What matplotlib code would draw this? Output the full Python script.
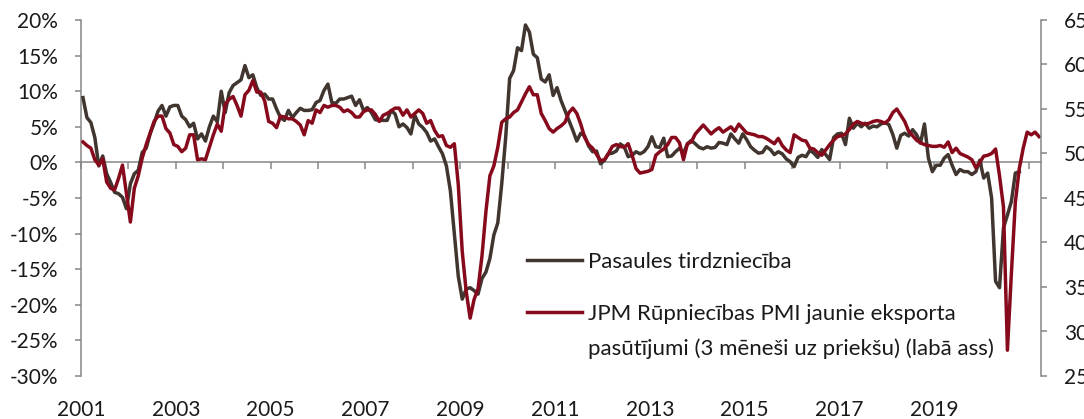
import numpy as np
import matplotlib
matplotlib.use("Agg")
import matplotlib.pyplot as plt
from matplotlib.ticker import FuncFormatter, FormatStrFormatter

plt.rcParams['font.family'] = ['Lato', 'DejaVu Sans']

## DATA ##

# World trade, y/y change [%], monthly from Jan 2001
trade = [
	9.1, 6.3, 5.6, 3.5, -0.5, 0.9, -1.6, -2.8, -4.2, -4.4, -4.9, -6.5,
	-3.0, -1.6, -1.1, 1.4, 2.0, 4.0, 5.5, 7.2, 8.0, 6.5, 7.8, 8.0,
	8.0, 6.5, 6.0, 5.0, 5.5, 3.3, 4.0, 3.0, 5.0, 6.5, 5.7, 10.0,
	7.0, 9.8, 10.8, 11.2, 11.6, 13.6, 11.9, 12.3, 10.5, 9.4, 9.6, 8.9,
	8.9, 7.5, 6.3, 5.9, 7.3, 6.3, 7.0, 7.6, 7.3, 7.3, 7.4, 8.4,
	8.7, 10.1, 11.0, 8.4, 8.3, 8.9, 8.9, 9.1, 9.3, 8.0, 8.8, 7.3,
	7.7, 7.0, 6.0, 5.9, 5.9, 5.9, 7.3, 6.8, 5.0, 5.4, 4.9, 4.0,
	6.6, 5.4, 4.9, 4.2, 3.0, 3.3, 2.2, 1.2, -0.5, -4.0, -10.0, -16.0,
	-19.2, -17.8, -17.6, -18.0, -18.5, -16.3, -15.4, -13.5, -10.2, -8.5, -3.0, 3.5,
	11.8, 12.9, 16.1, 15.7, 19.3, 18.3, 15.2, 14.7, 11.7, 11.3, 12.3, 9.4,
	10.5, 8.7, 7.3, 5.9, 4.5, 3.0, 4.1, 3.7, 2.3, 1.5, 1.6, -0.2,
	0.3, 1.2, 1.3, 1.6, 2.6, 2.2, 0.8, 1.0, 1.5, 1.2, 1.5, 2.2,
	3.6, 2.2, 2.1, 3.4, 0.8, 0.9, 1.5, 2.0, 1.3, 2.6, 3.1, 2.6,
	2.1, 1.9, 2.2, 2.0, 2.1, 2.8, 2.7, 2.5, 4.0, 3.3, 2.7, 4.0,
	3.2, 2.2, 1.7, 1.3, 1.4, 2.2, 1.8, 1.1, 1.5, 1.2, 0.5, 0.1,
	-0.6, 0.7, 1.0, 0.8, 1.7, 1.3, 0.7, 1.8, 1.1, 0.4, 3.5, 4.0,
	4.1, 2.5, 6.2, 4.8, 5.5, 5.0, 5.5, 4.8, 5.1, 5.0, 5.4, 5.6,
	5.3, 3.9, 2.0, 3.8, 4.1, 3.7, 4.6, 3.9, 2.7, 5.4, 0.6, -1.3,
	-0.4, -0.4, 0.6, 1.1, -0.4, -1.7, -1.0, -1.3, -1.3, -1.7, -1.3, 0.3,
	-2.2, -1.5, -5.0, -16.7, -17.6, -9.2, -7.4, -5.5, -1.5, -1.3]

# JPM manufacturing PMI new export orders, shifted 3 months ahead, monthly from Jan 2001
pmi = [
	51.3, 50.9, 50.6, 49.3, 48.7, 49.4, 46.8, 46.1, 45.9, 47.2, 48.7, 45.5,
	42.3, 46.1, 47.5, 49.5, 51.0, 52.3, 53.6, 54.2, 54.2, 52.8, 52.3, 51.0,
	50.8, 50.2, 50.6, 52.1, 52.1, 49.3, 49.4, 49.3, 50.7, 52.1, 53.3, 52.5,
	55.5, 56.1, 56.4, 55.4, 54.2, 56.6, 57.1, 58.2, 56.9, 56.9, 55.9, 53.6,
	53.4, 52.9, 54.2, 54.1, 53.9, 53.9, 53.6, 53.2, 52.1, 53.7, 53.4, 54.9,
	54.6, 55.4, 55.2, 55.4, 55.4, 55.2, 54.7, 54.9, 54.6, 54.1, 54.1, 54.7,
	54.9, 54.9, 54.4, 53.6, 54.3, 54.5, 54.8, 55.1, 55.1, 54.3, 54.9, 54.1,
	54.5, 54.9, 54.5, 53.4, 53.7, 52.6, 51.9, 52.0, 50.9, 50.7, 51.1, 46.5,
	39.0, 34.5, 31.5, 33.6, 34.8, 38.5, 43.5, 47.5, 48.6, 50.7, 53.5, 53.9,
	54.1, 54.6, 54.9, 55.8, 56.7, 57.5, 56.6, 56.6, 54.5, 53.7, 52.8, 52.4,
	52.8, 53.1, 53.5, 54.6, 55.1, 54.5, 53.3, 51.8, 51.0, 50.6, 49.9, 49.2,
	49.3, 50.0, 50.8, 51.0, 50.8, 50.7, 51.1, 49.8, 48.3, 47.8, 47.9, 48.0,
	48.2, 49.8, 50.2, 50.5, 51.0, 51.8, 51.8, 51.2, 49.3, 51.1, 51.3, 52.2,
	52.7, 53.2, 52.7, 52.2, 52.6, 52.9, 52.4, 52.7, 53.0, 52.5, 53.3, 52.8,
	52.3, 52.2, 52.1, 51.9, 51.9, 51.7, 51.4, 51.1, 51.7, 50.9, 50.4, 50.1,
	52.1, 51.8, 51.5, 51.4, 50.6, 50.5, 50.1, 49.8, 50.4, 51.0, 51.5, 51.9,
	52.0, 52.2, 52.7, 53.3, 53.6, 53.4, 53.3, 53.4, 53.6, 53.7, 53.6, 53.4,
	53.8, 54.6, 55.0, 54.3, 53.6, 52.5, 52.0, 51.5, 51.2, 51.0, 50.9, 50.8,
	50.8, 50.9, 50.7, 51.3, 50.1, 50.6, 50.0, 49.8, 49.6, 49.3, 48.4, 49.0,
	49.7, 49.8, 50.0, 50.5, 47.5, 44.0, 27.9, 36.5, 44.5, 48.3, 50.6, 52.4,
	52.1, 52.4, 51.9]

labelTrade = "Pasaules tirdzniecība"
labelPmi = "JPM Rūpniecības PMI jaunie eksporta\npasūtījumi (3 mēneši uz priekšu) (labā ass)"

yearTicks = list(range(2001, 2022))
yearLabels = list(range(2001, 2020, 2))
leftTicks = list(range(-30, 21, 5))
rightTicks = list(range(25, 66, 5))

## STYLE ##

colTrade = '#40352f'
colPmi = '#870a1c'
colAxis = '#868686'
colText = '#1a1a1a'
fsTick = 15
fsLeg = 16

fig = plt.figure(figsize=(10.84, 4.19), dpi=100)
ax = fig.add_axes([81/1084, 1 - 376/419, 960/1084, 356/419])
ax2 = ax.twinx()

# monthly points sit in the middle of each month
xTrade = 2001 + (np.arange(len(trade)) + 0.5)/12
xPmi = 2001 + (np.arange(len(pmi)) + 0.5)/12

ax.plot(xTrade, trade, color=colTrade, lw=2.5, zorder=3, solid_joinstyle='round', label=labelTrade)
ax2.plot(xPmi, pmi, color=colPmi, lw=2.5, solid_joinstyle='round', label=labelPmi)

ax.set_xlim(2001, 2021.25)
ax.set_ylim(-30, 20)
ax2.set_ylim(25, 65)

# left axis
for s in ['top', 'right']:
	ax.spines[s].set_visible(False)
ax.spines['left'].set_color(colAxis)
ax.spines['left'].set_linewidth(1.1)
ax.spines['bottom'].set_position(('data', 0))
ax.spines['bottom'].set_color(colAxis)
ax.spines['bottom'].set_linewidth(1.1)
ax.set_yticks(leftTicks)
ax.yaxis.set_major_formatter(FuncFormatter(lambda v, p: "%d%%" % v))
ax.tick_params(axis='y', direction='out', length=4.5, width=1.1, color=colAxis,
	pad=12, labelsize=fsTick, labelcolor=colText)
ax.set_xticks(yearTicks)
ax.tick_params(axis='x', direction='out', length=5, width=1.1, color=colAxis, labelbottom=False)

# right axis
for s in ['top', 'left', 'bottom']:
	ax2.spines[s].set_visible(False)
ax2.spines['right'].set_color(colAxis)
ax2.spines['right'].set_linewidth(1.1)
ax2.set_yticks(rightTicks)
ax2.tick_params(axis='y', direction='out', length=4.5, width=1.1, color=colAxis,
	pad=12, labelsize=fsTick, labelcolor=colText)

# year labels sit below the plot, not on the zero line
sec = ax.secondary_xaxis('bottom')
sec.set_xticks(yearLabels)
sec.xaxis.set_major_formatter(FormatStrFormatter('%d'))
sec.tick_params(length=0, pad=17, labelsize=fsTick, labelcolor=colText)
sec.spines['bottom'].set_visible(False)

# legend
handles = ax.get_lines() + ax2.get_lines()
leg = ax2.legend(handles, [labelTrade, labelPmi], loc='upper left',
	bbox_to_anchor=(527/1084, 1 - 252/419), bbox_transform=fig.transFigure,
	frameon=False, fontsize=fsLeg, handlelength=2.48, handletextpad=0.27,
	labelspacing=1.44, borderpad=0, borderaxespad=0)
for t in leg.get_texts():
	t.set_color(colText)
leg.get_texts()[1].set_linespacing(1.85)
# put the handle next to the first text line
for col in leg._legend_handle_box.get_children():
	for item in col.get_children():
		item.align = 'top'

fig.savefig('out.png', dpi=100)
